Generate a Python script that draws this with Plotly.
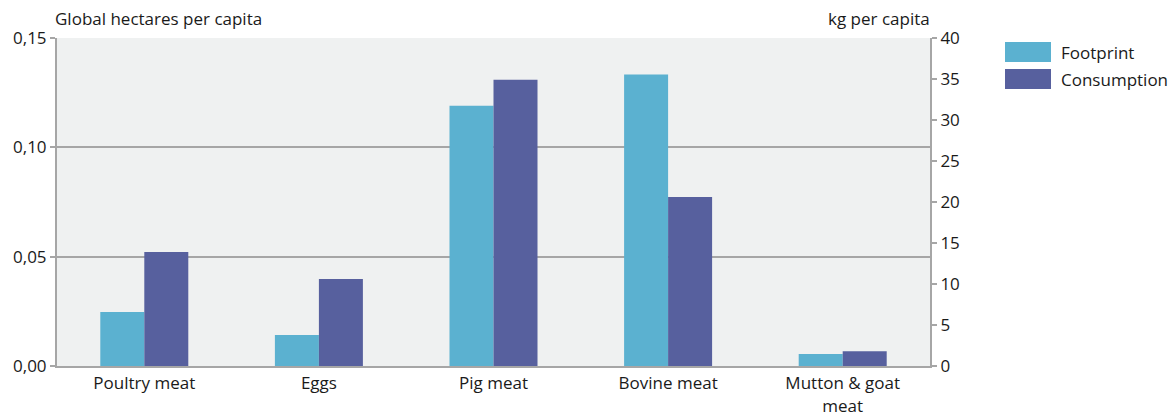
import plotly.graph_objects as go

categories = ["Poultry meat", "Eggs", "Pig meat", "Bovine meat", "Mutton & goat<br>meat"]
footprint_gha = [0.0247, 0.0142, 0.1190, 0.1333, 0.0055]
consumption_kg = [13.9, 10.6, 34.9, 20.6, 1.8]
left_ticks = [0, 0.05, 0.10, 0.15]
right_ticks = [0, 5, 10, 15, 20, 25, 30, 35, 40]

FOOT_COLOR = "#5bb1d0"
CONS_COLOR = "#57609e"
AXIS_COLOR = "#a6a6a6"
FONT = "Open Sans"
FS = 17

fig = go.Figure()
fig.add_trace(go.Bar(
    x=categories, y=footprint_gha, name="Footprint",
    marker=dict(color=FOOT_COLOR, line=dict(width=0)),
    offsetgroup="a", yaxis="y", showlegend=False,
))
fig.add_trace(go.Bar(
    x=categories, y=consumption_kg, name="Consumption",
    marker=dict(color=CONS_COLOR, line=dict(width=0)),
    offsetgroup="b", yaxis="y2", showlegend=False,
))

fig.update_layout(
    width=1170, height=417,
    margin=dict(l=57, r=240, t=38, b=51),
    paper_bgcolor="white",
    plot_bgcolor="#eff1f1",
    barmode="group",
    bargap=0.496,
    bargroupgap=0,
    separators=",.",
    font=dict(family=FONT, size=FS, color="#1a1a1a"),
    xaxis=dict(
        showline=True, linecolor=AXIS_COLOR, linewidth=2,
        ticks="outside", ticklen=1, tickcolor="rgba(0,0,0,0)",
        tickfont=dict(size=FS), showgrid=False, automargin=False,
    ),
    yaxis=dict(
        range=[0, 0.15], tickvals=left_ticks, tickformat=".2f",
        showline=True, linecolor=AXIS_COLOR, linewidth=2,
        ticks="outside", ticklen=5, tickcolor=AXIS_COLOR, tickwidth=1.5,
        showgrid=True, gridcolor=AXIS_COLOR, gridwidth=1.5,
        zeroline=False, tickfont=dict(size=FS), automargin=False,
    ),
    yaxis2=dict(
        range=[0, 40], tickvals=right_ticks, overlaying="y", side="right",
        showline=True, linecolor=AXIS_COLOR, linewidth=2,
        ticks="outside", ticklen=5, tickcolor=AXIS_COLOR, tickwidth=1.5,
        showgrid=False, zeroline=False, tickfont=dict(size=FS), automargin=False,
    ),
)

# Axis unit captions
fig.add_annotation(x=0, y=1, xref="paper", yref="paper", xanchor="left", yanchor="bottom",
                   xshift=-4, yshift=6, text="Global hectares per capita", showarrow=False,
                   font=dict(size=FS))
fig.add_annotation(x=1, y=1, xref="paper", yref="paper", xanchor="right", yanchor="bottom",
                   xshift=2, yshift=6, text="kg per capita", showarrow=False, font=dict(size=FS))

# Legend drawn as swatches with labels
legend_items = [("Footprint", FOOT_COLOR), ("Consumption", CONS_COLOR)]
for i, (label, color) in enumerate(legend_items):
    y_top = 42 + i * 27
    fig.add_shape(type="rect", xref="paper", yref="paper",
                  x0=(1005 - 57) / 873, x1=(1051 - 57) / 873,
                  y0=(366 - y_top) / 328, y1=(366 - y_top - 20) / 328,
                  fillcolor=color, line=dict(width=0))
    fig.add_annotation(x=(1059 - 57) / 873, y=(366 - y_top - 10) / 328,
                       xref="paper", yref="paper", xanchor="left", yanchor="middle",
                       text=label, showarrow=False, font=dict(size=FS))

fig.write_html("out.html")
